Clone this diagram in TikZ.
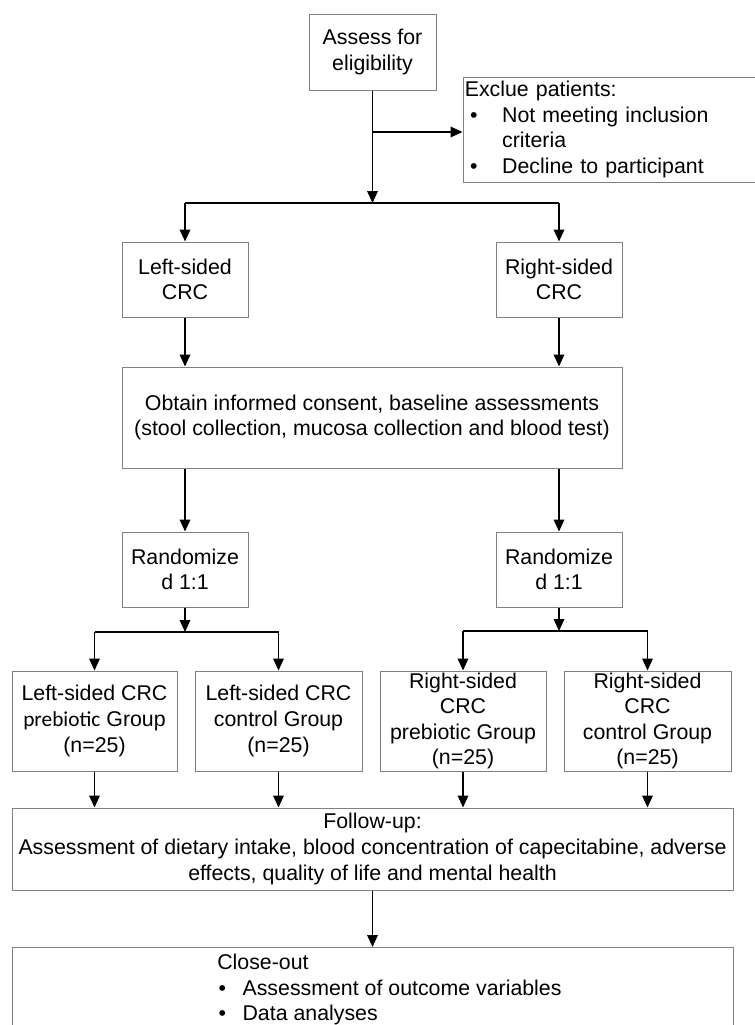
\documentclass[tikz,border=0pt]{standalone}
\usepackage{fontspec}
\setmainfont{Liberation Sans}
\newfontfamily\carlito{Carlito}
\usetikzlibrary{arrows.meta}
\begin{document}
\begin{tikzpicture}[x=0.75pt,y=-0.75pt,
  box/.style={draw=black!50, line width=0.75pt, rectangle, inner sep=1pt, align=center,
    font=\fontsize{16}{19.2}\selectfont},
  arr/.style={draw=black, line width=1pt, -{Triangle[length=9pt,width=8pt]}},
  ln/.style={draw=black, line width=1pt},
  txt/.style={inner sep=0pt, align=left, font=\fontsize{16}{19.2}\selectfont}]
\useasboundingbox (0,0) rectangle (755,1025);

\node[box, minimum width=95.25pt, minimum height=57pt] (assess) at (372.5,52) {Assess for\\eligibility};
\node[box, minimum width=219.75pt, minimum height=78.75pt, text width=217pt, inner xsep=0.5pt, align=left] (excl) at (609.5,129.5)
  {Exclue patients:\\
   \hspace*{4pt}\makebox[24pt][l]{\textbullet}Not meeting inclusion\\
   \hspace*{28pt}criteria\\
   \hspace*{4pt}\makebox[24pt][l]{\textbullet}Decline to participant};

\node[box, minimum width=94.5pt, minimum height=56.25pt] (lcrc) at (185,279.5) {Left-sided\\CRC};
\node[box, minimum width=94.5pt, minimum height=56.25pt] (rcrc) at (559,279.5) {Right-sided\\CRC};

\node[box, minimum width=375pt, minimum height=75.75pt] (consent) at (372,417.5)
  {Obtain informed consent, baseline assessments\\(stool collection, mucosa collection and blood test)};

\node[box, minimum width=94.5pt, minimum height=56.25pt] (lrand) at (185,569.5) {Randomize\\d 1:1};
\node[box, minimum width=94.5pt, minimum height=56.25pt] (rrand) at (559,569.5) {Randomize\\d 1:1};

\node[box, minimum width=123.75pt, minimum height=75pt] (g1) at (94.5,721) {Left-sided CRC\\{\carlito prebiotic} Group\\(n=25)};
\node[box, minimum width=125.25pt, minimum height=75pt] (g2) at (278.5,721) {Left-sided CRC\\control Group\\(n=25)};
\node[box, minimum width=124.5pt, minimum height=75pt] (g3) at (463,721) {Right-sided\\CRC\\prebiotic Group\\(n=25)};
\node[box, minimum width=125.25pt, minimum height=75pt] (g4) at (647.5,721) {Right-sided\\CRC\\control Group\\(n=25)};

\node[box, minimum width=540.75pt, minimum height=61.5pt] (follow) at (372.5,849)
  {Follow-up:\\Assessment of dietary intake, blood concentration of capecitabine, adverse\\effects, quality of life and mental health};

\node[box, minimum width=540.75pt, minimum height=90pt, anchor=north] (close) at (372.5,947) {};
\node[txt, anchor=north west] (closetxt) at (217,954)
  {Close-out\\
   \hspace*{1pt}\makebox[18pt][l]{\textbullet}Assessment of outcome variables\\
   \hspace*{1pt}\makebox[18pt][l]{\textbullet}Data analyses};

% connectors
\coordinate (j0) at (372.5,132);
\coordinate (j1) at (372.5,203);
\draw[arr] (assess.south) -- (j1);
\draw[arr] (j0) -- (excl.west |- j0);
\draw[ln] (lcrc.north |- j1) -- (rcrc.north |- j1);
\draw[arr] (lcrc.north |- j1) -- (lcrc.north);
\draw[arr] (rcrc.north |- j1) -- (rcrc.north);

\draw[arr] (lcrc.south) -- (lcrc.south |- consent.north);
\draw[arr] (rcrc.south) -- (rcrc.south |- consent.north);
\draw[arr] (consent.south -| lrand.north) -- (lrand.north);
\draw[arr] (consent.south -| rrand.north) -- (rrand.north);

\coordinate (j2) at (185,632);
\coordinate (j3) at (559,631);
\draw[arr] (lrand.south) -- (j2);
\draw[arr] (rrand.south) -- (j3);
\draw[ln] (g1.north |- j2) -- (g2.north |- j2);
\draw[ln] (g3.north |- j3) -- (g4.north |- j3);
\draw[arr] (g1.north |- j2) -- (g1.north);
\draw[arr] (g2.north |- j2) -- (g2.north);
\draw[arr] (g3.north |- j3) -- (g3.north);
\draw[arr] (g4.north |- j3) -- (g4.north);

\draw[arr] (g1.south) -- (g1.south |- follow.north);
\draw[arr] (g2.south) -- (g2.south |- follow.north);
\draw[arr] (g3.south) -- (g3.south |- follow.north);
\draw[arr] (g4.south) -- (g4.south |- follow.north);
\draw[arr] (follow.south) -- (close.north);
\end{tikzpicture}
\end{document}
